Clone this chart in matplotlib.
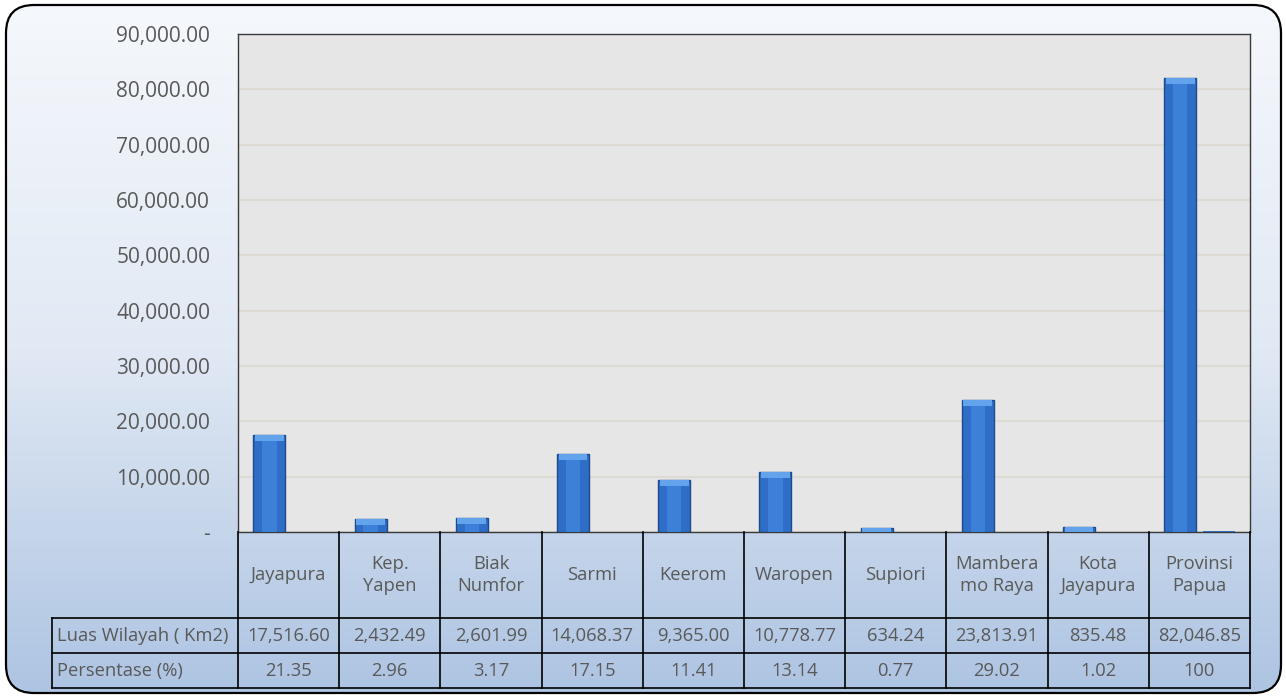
import numpy as np
import matplotlib
matplotlib.use('Agg')
import matplotlib.pyplot as plt
from matplotlib.patches import FancyBboxPatch
from matplotlib.colors import LinearSegmentedColormap
from matplotlib.ticker import FuncFormatter

plt.rcParams['font.family'] = ['Open Sans', 'DejaVu Sans']

# data
categories = ['Jayapura', 'Kep.\nYapen', 'Biak\nNumfor', 'Sarmi', 'Keerom', 'Waropen',
              'Supiori', 'Mambera\nmo Raya', 'Kota\nJayapura', 'Provinsi\nPapua']
luas = [17516.60, 2432.49, 2601.99, 14068.37, 9365.00, 10778.77, 634.24, 23813.91, 835.48, 82046.85]
persen = [21.35, 2.96, 3.17, 17.15, 11.41, 13.14, 0.77, 29.02, 1.02, 100]
row_labels = ['Luas Wilayah ( Km2)', 'Persentase (%)']
y_ticks = list(range(0, 90001, 10000))

W, H = 1286, 697
fig = plt.figure(figsize=(W / 100, H / 100), dpi=100)

# background with rounded border
bg = fig.add_axes([0, 0, 1, 1])
grad = np.linspace(0, 1, 256).reshape(-1, 1)
cmap = LinearSegmentedColormap.from_list('bg', ['#f5f8fc', '#e1e9f4', '#adc4e2'])
im = bg.imshow(grad, cmap=cmap, extent=[6, 1281, 693, 5], aspect='auto')
box = FancyBboxPatch((6, 5), 1275, 688, boxstyle='round,pad=0,rounding_size=28',
                     fc='none', ec='black', lw=1.6)
bg.add_patch(box)
im.set_clip_path(box)
bg.set_xlim(0, W)
bg.set_ylim(H, 0)
bg.axis('off')

# plot area
L, R, T, B = 238, 1250, 34, 532
ax = fig.add_axes([L / W, 1 - B / H, (R - L) / W, (B - T) / H])
ax.set_facecolor('#e6e6e6')
x = np.arange(len(categories))
luas_arr = np.array(luas)
bw = 0.315
off = 0.19
ax.bar(x - off, luas_arr, width=bw, color='#2f6ec6', edgecolor='#1d4a8a', lw=1, zorder=3)
ax.bar(x - off, luas_arr, width=bw * 0.45, color='#3d80da', lw=0, zorder=4)
cap = np.minimum(luas_arr, 1100)
ax.bar(x - off, cap, bottom=luas_arr - cap, width=bw * 0.9, color='#63a3ec', lw=0, zorder=5)
ax.bar(x + off, persen, width=bw, color='#2f6ec6', lw=0, zorder=3)

ax.set_xlim(-0.5, len(categories) - 0.5)
ax.set_ylim(0, 90000)
ax.set_yticks(y_ticks)
ax.yaxis.set_major_formatter(FuncFormatter(lambda v, p: '-' if v == 0 else '{:,.2f}'.format(v)))
ax.tick_params(axis='y', length=0, pad=20, labelsize=15, labelcolor='#595959')
ax.set_xticks([])
ax.yaxis.grid(True, color='#dcdad2', lw=1.5, zorder=1)
ax.set_axisbelow(True)
for s in ax.spines.values():
    s.set_color('#3a3a3a')
    s.set_linewidth(1)

# data table
TL, TB = 52, 688
r1, r2 = 618, 653
cw = (R - L) / len(categories)
xmin = -0.5 - (L - TL) / cw
tax = fig.add_axes([TL / W, 1 - TB / H, (R - TL) / W, (TB - B) / H])
tax.set_xlim(xmin, len(categories) - 0.5)
tax.set_ylim(TB, B)
tax.axis('off')
lc = 'black'
for i in range(len(categories) + 1):
    tax.plot([i - 0.5, i - 0.5], [B, TB], color=lc, lw=1.2, clip_on=False)
tax.plot([xmin, xmin], [r1, TB], color=lc, lw=1.2, clip_on=False)
for yy in [r1, r2, TB]:
    tax.plot([xmin, len(categories) - 0.5], [yy, yy], color=lc, lw=1.2, clip_on=False)

tc = '#595959'
fs = 13.2
for i, c in enumerate(categories):
    tax.text(i, (B + r1) / 2, c, ha='center', va='center', fontsize=fs, color=tc, linespacing=1.35)
    tax.text(i, (r1 + r2) / 2, '{:,.2f}'.format(luas[i]), ha='center', va='center', fontsize=fs, color=tc)
    tax.text(i, (r2 + TB) / 2, '{:g}'.format(persen[i]), ha='center', va='center', fontsize=fs, color=tc)
tax.text(xmin + 0.05, (r1 + r2) / 2, row_labels[0], ha='left', va='center', fontsize=fs, color=tc)
tax.text(xmin + 0.05, (r2 + TB) / 2, row_labels[1], ha='left', va='center', fontsize=fs, color=tc)

fig.savefig('out.png', dpi=100)
